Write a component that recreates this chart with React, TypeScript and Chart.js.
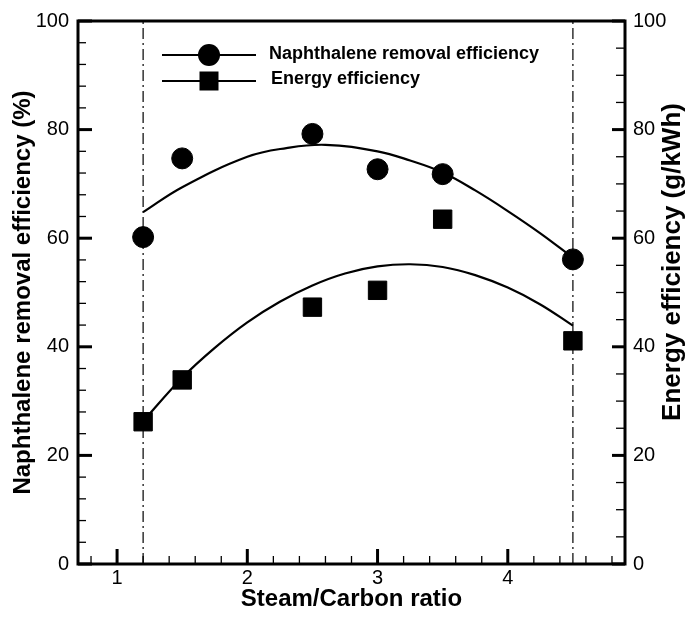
import React, { useEffect, useRef } from 'react';
import { Chart, registerables } from 'chart.js';

Chart.register(...registerables);

// ---- data ----
const ratioX = [1.2, 1.5, 2.5, 3.0, 3.5, 4.5];
const naphRemoval = [60.2, 74.7, 79.2, 72.7, 71.8, 56.1];
const energyEff = [26.2, 33.9, 47.3, 50.4, 63.5, 41.1];

const naphFitX = [1.2, 1.5, 2.0, 2.3, 2.6, 3.0, 3.25, 3.5, 3.75, 4.0, 4.25, 4.5];
const naphFitY = [64.8, 69.4, 75.0, 76.6, 77.2, 76.0, 74.3, 72.1, 68.8, 65.0, 60.9, 56.4];
const energyFitX = [1.2, 1.5, 1.75, 2.0, 2.25, 2.5, 2.75, 3.0, 3.25, 3.5, 3.75, 4.0, 4.25, 4.5];
const energyFitY = [26.3, 34.3, 39.8, 44.5, 48.3, 51.3, 53.5, 54.8, 55.2, 54.7, 53.2, 50.9, 47.8, 43.9];

const refLinesX = [1.2, 4.5];

const xTickLabels = [1, 2, 3, 4];
const yTickLabels = [0, 20, 40, 60, 80, 100];
const y2TickLabels = [0, 20, 40, 60, 80, 100];
const xMinorStep = 0.2;
const yMinorStep = 4;
const y2MinorStep = 5;

const xMin = 0.7;
const xMax = 4.9;
const yMin = 0;
const yMax = 100;

const legendLabels = ['Naphthalene removal efficiency', 'Energy efficiency'];
const xTitle = 'Steam/Carbon ratio';
const yTitle = 'Naphthalene removal efficiency (%)';
const y2Title = 'Energy efficiency (g/kWh)';

const FONT = "'Liberation Sans', Arial, Helvetica, sans-serif";

function minorValues(min: number, max: number, step: number, majors: number[]) {
  const out: number[] = [];
  const i0 = Math.ceil(min / step - 1e-9);
  const i1 = Math.floor(max / step + 1e-9);
  for (let i = i0; i <= i1; i++) {
    const v = i * step;
    if (!majors.some((m) => Math.abs(m - v) < 1e-6)) out.push(v);
  }
  return out;
}

const framePlugin = {
  id: 'frameTicks',
  afterDatasetsDraw(chart: any) {
    const { ctx, chartArea, scales } = chart;
    const { left, right, top, bottom } = chartArea;
    ctx.save();
    ctx.strokeStyle = '#000';
    ctx.lineCap = 'butt';
    const seg = (x1: number, y1: number, x2: number, y2: number, w: number) => {
      ctx.lineWidth = w;
      ctx.beginPath();
      ctx.moveTo(x1, y1);
      ctx.lineTo(x2, y2);
      ctx.stroke();
    };
    // x ticks (inward)
    minorValues(xMin, xMax, xMinorStep, xTickLabels).forEach((v) => {
      const px = scales.x.getPixelForValue(v);
      seg(px, bottom, px, bottom - 8, 1.3);
    });
    xTickLabels.forEach((v) => {
      const px = scales.x.getPixelForValue(v);
      seg(px, bottom, px, bottom - 15, 3);
    });
    // left y ticks
    minorValues(yMin, yMax, yMinorStep, yTickLabels).forEach((v) => {
      const py = scales.y.getPixelForValue(v);
      seg(left, py, left + 8, py, 1.3);
    });
    yTickLabels.forEach((v) => {
      const py = scales.y.getPixelForValue(v);
      seg(left, py, left + 14, py, 3);
    });
    // right y ticks
    minorValues(yMin, yMax, y2MinorStep, y2TickLabels).forEach((v) => {
      const py = scales.y2.getPixelForValue(v);
      seg(right, py, right - 9, py, 1.3);
    });
    y2TickLabels.forEach((v) => {
      const py = scales.y2.getPixelForValue(v);
      seg(right, py, right - 13, py, 3);
    });
    // frame
    ctx.lineWidth = 3;
    ctx.strokeRect(left, top, right - left, bottom - top);
    ctx.restore();
  },
  afterDraw(chart: any) {
    const { ctx } = chart;
    ctx.save();
    // right axis title, reading bottom to top
    ctx.fillStyle = '#000';
    ctx.font = `bold 26px ${FONT}`;
    ctx.textAlign = 'center';
    ctx.textBaseline = 'middle';
    ctx.translate(673, 262);
    ctx.rotate(-Math.PI / 2);
    ctx.fillText(y2Title, 0, 0);
    ctx.restore();

    // legend
    ctx.save();
    ctx.strokeStyle = '#000';
    ctx.fillStyle = '#000';
    ctx.lineWidth = 2.2;
    const rows = [55, 81];
    rows.forEach((y, i) => {
      ctx.beginPath();
      ctx.moveTo(162, y);
      ctx.lineTo(256, y);
      ctx.stroke();
      if (i === 0) {
        ctx.beginPath();
        ctx.arc(209, y, 11, 0, Math.PI * 2);
        ctx.fill();
      } else {
        ctx.fillRect(209 - 9.5, y - 9.5, 19, 19);
      }
      ctx.font = `bold 18px ${FONT}`;
      ctx.textAlign = 'left';
      ctx.textBaseline = 'middle';
      ctx.fillText(legendLabels[i], i === 0 ? 269 : 271, i === 0 ? 54 : 79);
    });
    ctx.restore();
  },
};

export default function App() {
  const canvasRef = useRef<HTMLCanvasElement | null>(null);

  useEffect(() => {
    if (!canvasRef.current) return;
    const pts = (xs: number[], ys: number[]) => xs.map((x, i) => ({ x, y: ys[i] }));
    const tickFont = { family: FONT, size: 20 };
    const chart = new Chart(canvasRef.current, {
      type: 'scatter',
      data: {
        datasets: [
          {
            label: legendLabels[0],
            data: pts(ratioX, naphRemoval),
            yAxisID: 'y',
            pointStyle: 'circle',
            pointRadius: 10.5,
            pointBackgroundColor: '#000',
            pointBorderColor: '#000',
            pointBorderWidth: 1,
            showLine: false,
            order: 1,
          },
          {
            label: legendLabels[1],
            data: pts(ratioX, energyEff),
            yAxisID: 'y2',
            pointStyle: 'rect',
            pointRadius: 13,
            pointBackgroundColor: '#000',
            pointBorderColor: '#000',
            pointBorderWidth: 1,
            showLine: false,
            order: 1,
          },
          {
            label: 'naph fit',
            data: pts(naphFitX, naphFitY),
            yAxisID: 'y',
            showLine: true,
            borderColor: '#000',
            borderWidth: 2.2,
            pointRadius: 0,
            tension: 0.4,
            order: 2,
          },
          {
            label: 'energy fit',
            data: pts(energyFitX, energyFitY),
            yAxisID: 'y2',
            showLine: true,
            borderColor: '#000',
            borderWidth: 2.2,
            pointRadius: 0,
            tension: 0.4,
            order: 2,
          },
          ...refLinesX.map((x) => ({
            label: 'ref ' + x,
            data: [
              { x, y: yMin },
              { x, y: yMax },
            ],
            yAxisID: 'y',
            showLine: true,
            borderColor: '#000',
            borderWidth: 1.2,
            borderDash: [11, 4, 2, 4],
            pointRadius: 0,
            order: 3,
          })),
        ],
      } as any,
      options: {
        responsive: false,
        maintainAspectRatio: false,
        animation: false,
        devicePixelRatio: 1,
        layout: { padding: { top: 19, left: 0, right: 0, bottom: 0 } },
        plugins: {
          legend: { display: false },
          tooltip: { enabled: false },
        },
        scales: {
          x: {
            type: 'linear',
            position: 'bottom',
            min: xMin,
            max: xMax,
            afterBuildTicks: (axis: any) => {
              axis.ticks = xTickLabels.map((v) => ({ value: v }));
            },
            afterFit: (axis: any) => {
              axis.height = 55;
            },
            grid: { display: false, drawTicks: false },
            border: { display: false },
            ticks: {
              font: tickFont,
              color: '#000',
              padding: 2,
              maxRotation: 0,
              autoSkip: false,
              callback: (v: any) => String(v),
            },
            title: {
              display: true,
              text: xTitle,
              color: '#000',
              font: { family: FONT, size: 24, weight: 'bold', lineHeight: 1.2 },
              padding: { top: 0, bottom: 5 },
            },
          },
          y: {
            type: 'linear',
            position: 'left',
            min: yMin,
            max: yMax,
            afterBuildTicks: (axis: any) => {
              axis.ticks = yTickLabels.map((v) => ({ value: v }));
            },
            afterFit: (axis: any) => {
              axis.width = 78;
            },
            grid: { display: false, drawTicks: false },
            border: { display: false },
            ticks: {
              font: tickFont,
              color: '#000',
              padding: 9,
              autoSkip: false,
              callback: (v: any) => String(v),
            },
            title: {
              display: true,
              text: yTitle,
              color: '#000',
              font: { family: FONT, size: 24, weight: 'bold', lineHeight: 1.2 },
              padding: { top: 9, bottom: 0 },
            },
          },
          y2: {
            type: 'linear',
            position: 'right',
            min: yMin,
            max: yMax,
            afterBuildTicks: (axis: any) => {
              axis.ticks = y2TickLabels.map((v) => ({ value: v }));
            },
            afterFit: (axis: any) => {
              axis.width = 64;
            },
            grid: { display: false, drawTicks: false },
            border: { display: false },
            ticks: {
              font: tickFont,
              color: '#000',
              padding: 8,
              autoSkip: false,
              callback: (v: any) => String(v),
            },
          },
        },
      } as any,
      plugins: [framePlugin],
    });
    return () => chart.destroy();
  }, []);

  return (
    <div style={{ position: 'fixed', left: 0, top: 0, width: 689, height: 619, background: '#fff' }}>
      <canvas ref={canvasRef} width={689} height={619} style={{ display: 'block', width: 689, height: 619 }} />
    </div>
  );
}
